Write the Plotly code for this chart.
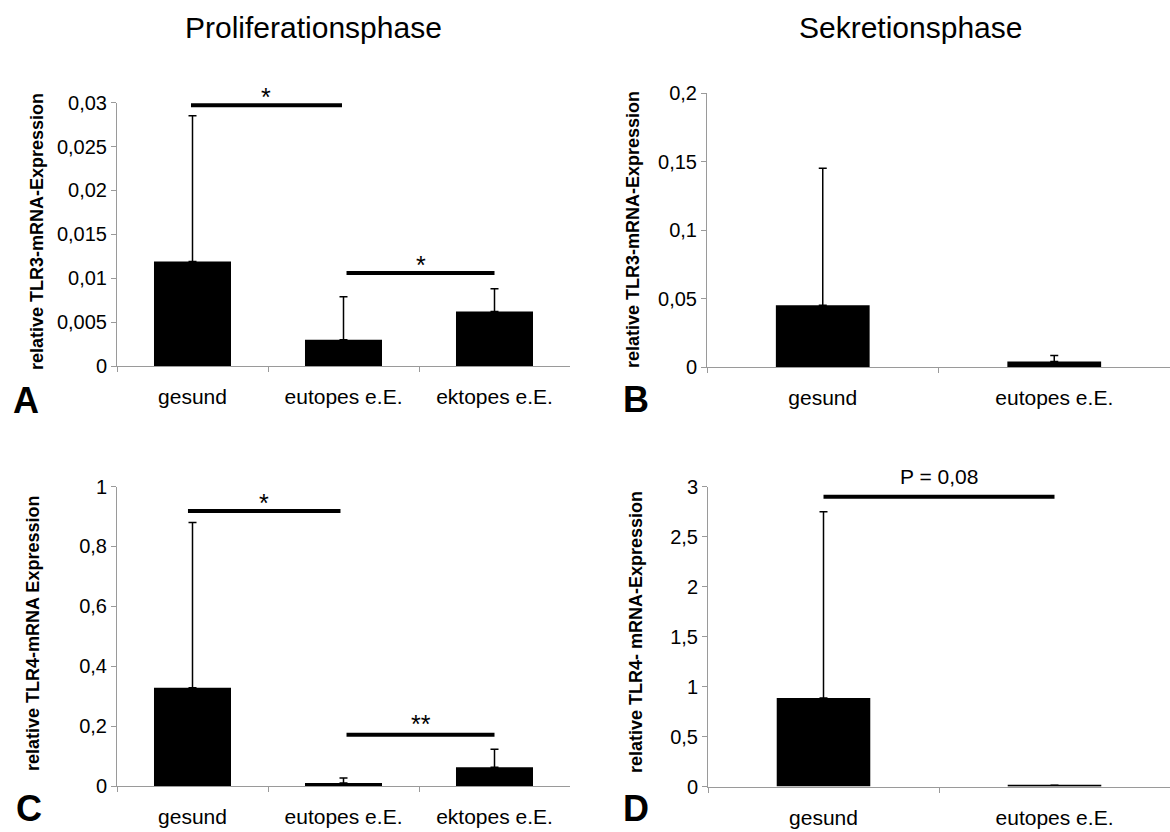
import plotly.graph_objects as go

# ---------------- data ----------------
cats3 = ["gesund", "eutopes e.E.", "ektopes e.E."]
cats2 = ["gesund", "eutopes e.E."]

tlr3_prolif = [0.0119, 0.0030, 0.0062]
tlr3_prolif_sd = [0.0166, 0.0049, 0.0026]
tlr3_sekret = [0.0450, 0.0040]
tlr3_sekret_sd = [0.1000, 0.0044]
tlr4_prolif = [0.328, 0.010, 0.063]
tlr4_prolif_sd = [0.552, 0.017, 0.060]
tlr4_sekret = [0.885, 0.012]
tlr4_sekret_sd = [1.865, 0.0]

yticks_A = [0, 0.005, 0.01, 0.015, 0.02, 0.025, 0.03]
yticktext_A = ["0", "0,005", "0,01", "0,015", "0,02", "0,025", "0,03"]
yticks_B = [0, 0.05, 0.1, 0.15, 0.2]
yticktext_B = ["0", "0,05", "0,1", "0,15", "0,2"]
yticks_C = [0, 0.2, 0.4, 0.6, 0.8, 1.0]
yticktext_C = ["0", "0,2", "0,4", "0,6", "0,8", "1"]
yticks_D = [0, 0.5, 1.0, 1.5, 2.0, 2.5, 3.0]
yticktext_D = ["0", "0,5", "1", "1,5", "2", "2,5", "3"]

# significance brackets: (x0, x1, y, label)
sig_A = [(-0.01, 0.99, 0.0297, "*"), (1.02, 2.0, 0.0106, "*")]
sig_C = [(-0.03, 0.98, 0.918, "*"), (1.02, 2.0, 0.171, "**")]
sig_D = [(0.0, 1.0, 2.9, "P = 0,08")]

titles = ["Proliferationsphase", "Sekretionsphase"]
ytitles = ["relative TLR3-mRNA-Expression", "relative TLR3-mRNA-Expression",
           "relative TLR4-mRNA Expression", "relative TLR4- mRNA-Expression"]
letters = ["A", "B", "C", "D"]

# ---------------- layout helpers ----------------
W, H = 1170, 832
FONT = "Arial, Liberation Sans, sans-serif"
AXC = "#9a9a9a"


def px(x):
    return x / W


def py(y):
    return 1 - y / H


fig = go.Figure()

panels = [
    # (suffix, cats, vals, sd, width, xdom px, ydom px, yrange, ticks, ticktext)
    ("", cats3, tlr3_prolif, tlr3_prolif_sd, 0.51, (117, 570), (366, 102.7), [0, 0.03], yticks_A, yticktext_A),
    ("2", cats2, tlr3_sekret, tlr3_sekret_sd, 0.405, (707, 1170), (367, 93), [0, 0.2], yticks_B, yticktext_B),
    ("3", cats3, tlr4_prolif, tlr4_prolif_sd, 0.51, (117, 570), (786, 486.5), [0, 1.0], yticks_C, yticktext_C),
    ("4", cats2, tlr4_sekret, tlr4_sekret_sd, 0.405, (708, 1170), (786.5, 486.7), [0, 3.0], yticks_D, yticktext_D),
]

for suf, cats, vals, sd, bw, xd, yd, yr, tv, tt in panels:
    fig.add_trace(go.Bar(
        x=cats, y=vals, width=bw,
        marker=dict(color="black", line=dict(width=0)),
        error_y=dict(type="data", symmetric=False, array=sd, arrayminus=[0] * len(sd),
                     color="black", thickness=1.5, width=4),
        xaxis="x" + suf, yaxis="y" + suf, showlegend=False,
    ))
    fig.layout["xaxis" + suf] = dict(
        domain=[px(xd[0]), px(xd[1])], anchor="y" + suf, type="category",
        showline=True, linecolor=AXC, linewidth=1,
        ticks="outside", tickson="boundaries", ticklen=5, tickcolor=AXC,
        tickfont=dict(family=FONT, size=21, color="black"),
        ticklabelstandoff=12, showgrid=False, zeroline=False, fixedrange=True,
    )
    fig.layout["yaxis" + suf] = dict(
        domain=[py(yd[0]), py(yd[1])], anchor="x" + suf, range=yr,
        tickvals=tv, ticktext=tt,
        showline=True, linecolor=AXC, linewidth=1,
        ticks="outside", ticklen=5, tickcolor=AXC,
        tickfont=dict(family=FONT, size=20, color="black"),
        showgrid=False, zeroline=False, fixedrange=True,
    )

shapes = []
annotations = []


def add_sig(sigs, suf, yshift_star, yshift_other):
    for x0, x1, y, lab in sigs:
        shapes.append(dict(type="line", xref="x" + suf, yref="y" + suf,
                           x0=x0, x1=x1, y0=y, y1=y,
                           line=dict(color="black", width=4)))
        star = lab.startswith("*")
        annotations.append(dict(
            xref="x" + suf, yref="y" + suf, x=(x0 + x1) / 2, y=y,
            text=lab, showarrow=False, yanchor="middle",
            yshift=(yshift_star if lab == "*" else yshift_other),
            font=dict(family=FONT, size=25 if star else 21, color="black"),
        ))


add_sig(sig_A, "", 8, 12)
add_sig(sig_C, "3", 8, 11)
add_sig(sig_D, "4", 8, 20)

# column titles
for t, xc in zip(titles, [313, 910]):
    annotations.append(dict(xref="paper", yref="paper", x=px(xc), y=py(27), text=t,
                            showarrow=False, xanchor="center", yanchor="middle",
                            font=dict(family=FONT, size=30, color="black")))

# y-axis titles
for t, (xc, yc) in zip(ytitles, [(37, 232), (633, 230), (33, 634), (636, 632)]):
    annotations.append(dict(xref="paper", yref="paper", x=px(xc), y=py(yc), text="<b>%s</b>" % t,
                            textangle=-90, showarrow=False, xanchor="center", yanchor="middle",
                            font=dict(family=FONT, size=18, color="black")))

# panel letters
for t, (xc, yc) in zip(letters, [(26, 400), (636, 399), (29, 808), (636, 808)]):
    annotations.append(dict(xref="paper", yref="paper", x=px(xc), y=py(yc), text="<b>%s</b>" % t,
                            showarrow=False, xanchor="center", yanchor="middle",
                            font=dict(family=FONT, size=36, color="black")))

fig.update_layout(
    width=W, height=H,
    margin=dict(l=0, r=0, t=0, b=0, autoexpand=False),
    paper_bgcolor="white", plot_bgcolor="white",
    shapes=shapes, annotations=annotations, showlegend=False,
)

fig.write_html("out.html", config={"displayModeBar": False})
